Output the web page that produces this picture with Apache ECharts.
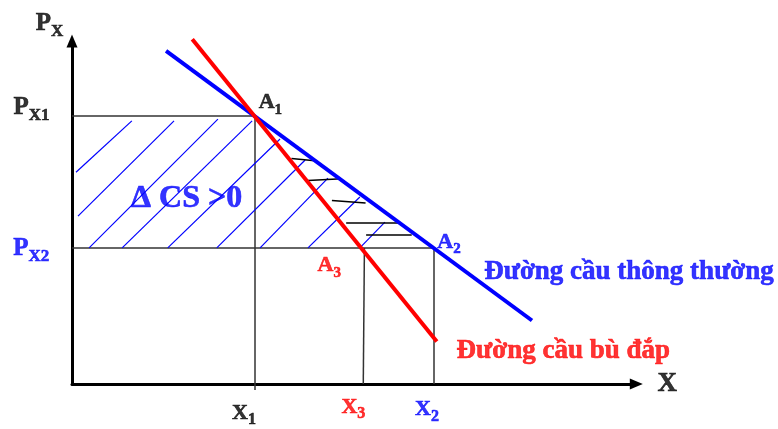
<!DOCTYPE html>
<html>
<head>
<meta charset="utf-8">
<title>Đường cầu bù đắp</title>
<script src="https://cdn.jsdelivr.net/npm/echarts@6/dist/echarts.min.js"></script>
<style>
html, body { margin: 0; padding: 0; background: #fff; }
#chart { width: 778px; height: 429px; }
</style>
</head>
<body>
<div id="chart"></div>
<script>
// price levels PX1, PX2 and quantities X1, X3, X2 (schematic units)
var priceLevels = [76.8, 39.0];
var quantityLevels = [32, 51.2, 63.5];

// the two demand curves, end points
var normalDemand = [[16.5, 95.5], [80.7, 18.2]];
var compDemand = [[21.1, 98.8], [64.0, 12.2]];

// blue diagonal hatching of the consumer surplus gain
var hatchDiag = [
    [[0.7, 60.7], [10.5, 75.4]],
    [[1.05, 48.1], [17.9, 75.4]],
    [[3.0, 39.0], [25.6, 75.9]],
    [[8.8, 39.0], [31.6, 75.4]],
    [[16.8, 39.0], [36.5, 70.2]],
    [[25.4, 39.0], [40.9, 64.2]],
    [[33.0, 39.0], [44.9, 59.0]],
    [[41.4, 39.0], [50.5, 53.6]],
    [[50.5, 39.0], [54.9, 46.4]]
];

// short black strokes between the two curves
var hatchFlat = [
    [[38.5, 64.6], [42.6, 64.0]],
    [[41.4, 58.3], [47.3, 58.8]],
    [[45.6, 52.6], [51.5, 51.9]],
    [[48.1, 46.2], [57.2, 46.2]],
    [[51.6, 42.8], [59.6, 42.8]]
];

var priceLabels = ['X1', 'X2'];
var qtyLabels = ['1', '3', '2'];
var pointLabels = ['1', '2', '3'];
var curveNames = ['Đường cầu thông thường', 'Đường cầu bù đắp'];
var surplusText = 'Δ CS >0';

var chart = echarts.init(document.getElementById('chart'));

var BLUE = '#0000ff', RED = '#ff0000', INK = '#000';
var serif = 'Liberation Serif';

function rs(size, pad) {
    return {
        fontFamily: serif, fontWeight: 'bold', fontSize: size,
        lineHeight: size, verticalAlign: 'bottom', padding: [0, 0, pad || 0, 0]
    };
}

var PX1 = priceLevels[0], PX2 = priceLevels[1];
var X1 = quantityLevels[0], X3 = quantityLevels[1], X2 = quantityLevels[2];

var guides = [
    [[0, PX1], [X1, PX1]],
    [[0, PX2], [X2, PX2]],
    [[X1, PX1], [X1, -1.7]],
    [[X3 + 0.1, PX2], [X3 - 0.1, 0]],
    [[X2, PX2], [X2, 0]]
];

function note(pos, text, color, offset) {
    return {
        value: pos,
        label: {
            formatter: text, color: color, offset: offset,
            textBorderColor: color, textBorderWidth: 0.6
        }
    };
}

var notes = [
    note([0, 98.3], '{p|P}{s|X}', INK, [-22.5, -13.5]),
    note([0, PX1], '{p|P}{s|' + priceLabels[0] + '}', INK, [-40.5, -4.5]),
    note([0, PX2], '{p|P}{s|' + priceLabels[1] + '}', BLUE, [-40.7, 5]),
    note([X1, PX1], '{a|A}{as|' + pointLabels[0] + '}', INK, [16, -9.5]),
    note([X2, PX2], '{a|A}{as|' + pointLabels[1] + '}', BLUE, [15, -2]),
    note([X3, PX2], '{a|A}{as|' + pointLabels[2] + '}', RED, [-34.6, 21.5]),
    note([X1, 0], '{x|X}{xs|' + qtyLabels[0] + '}', INK, [-10.4, 33]),
    note([X3, 0], '{x|X}{xs|' + qtyLabels[1] + '}', RED, [-10.5, 27]),
    note([X2, 0], '{x|X}{xs|' + qtyLabels[2] + '}', BLUE, [-7, 29.5]),
    note([99, 0], '{n|X}', INK, [31, 0]),
    note([20.1, 53.2], '{cs|' + surplusText + '}', BLUE, [0, 0]),
    note(normalDemand[1], '{c|' + curveNames[0] + '}', BLUE, [97, -48]),
    note(compDemand[1], '{c|' + curveNames[1] + '}', RED, [126.5, 10.1])
];

function toLines(arr) {
    return arr.map(function (seg) { return { coords: seg }; });
}

var hiddenAxis = {
    type: 'value',
    min: 0,
    splitLine: { show: false },
    axisTick: { show: false },
    axisLabel: { show: false },
    axisLine: {
        show: true,
        symbol: ['none', 'triangle'],
        symbolSize: [11, 13],
        lineStyle: { color: INK, width: 3 }
    }
};

var option = {
    animation: false,
    backgroundColor: '#fff',
    grid: { left: 72, right: 141.7, top: 41, bottom: 45 },
    xAxis: echarts.util.merge({ max: 99 }, hiddenAxis),
    yAxis: echarts.util.merge({ max: 98.3 }, hiddenAxis),
    series: [{
        type: 'lines',
        coordinateSystem: 'cartesian2d',
        clip: false,
        silent: true,
        z: 1,
        lineStyle: { color: '#333', width: 1.5, opacity: 1 },
        data: toLines(guides)
    }, {
        type: 'lines',
        coordinateSystem: 'cartesian2d',
        clip: false,
        silent: true,
        z: 2,
        lineStyle: { color: BLUE, width: 1.2, opacity: 1 },
        data: toLines(hatchDiag)
    }, {
        type: 'lines',
        coordinateSystem: 'cartesian2d',
        clip: false,
        silent: true,
        z: 2,
        lineStyle: { color: INK, width: 1.5, opacity: 1 },
        data: toLines(hatchFlat)
    }, {
        name: curveNames[0],
        type: 'line',
        clip: false,
        symbol: 'none',
        z: 3,
        lineStyle: { color: BLUE, width: 4 },
        data: normalDemand
    }, {
        name: curveNames[1],
        type: 'line',
        clip: false,
        symbol: 'none',
        z: 4,
        lineStyle: { color: RED, width: 4 },
        data: compDemand
    }, {
        type: 'scatter',
        symbolSize: 0,
        silent: true,
        z: 5,
        itemStyle: { color: 'transparent' },
        label: {
            show: true,
            position: 'top',
            distance: 0,
            align: 'center',
            verticalAlign: 'middle',
            fontFamily: serif,
            fontWeight: 'bold',
            rich: {
                p: rs(25, 4),
                s: rs(17),
                a: rs(22, 4),
                as: rs(15),
                x: rs(22, 4),
                xs: rs(16),
                n: rs(27),
                cs: rs(32),
                c: rs(27)
            }
        },
        data: notes
    }]
};

chart.setOption(option);
</script>
</body>
</html>
